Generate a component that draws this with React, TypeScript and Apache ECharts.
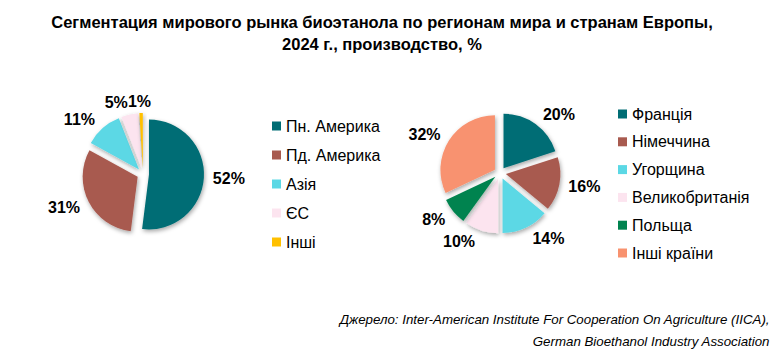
import React, { useEffect, useRef } from "react";
import * as echarts from "echarts";

const titleLines = [
  "Сегментация мирового рынка биоэтанола по регионам мира и странам Европы,",
  "2024 г., производство, %",
];
const sourceLines = [
  "Джерело: Inter-American Institute For Cooperation On Agriculture (IICA),",
  "German Bioethanol Industry Association",
];

const regionNames = ["Пн. Америка", "Пд. Америка", "Азія", "ЄС", "Інші"];
const regionValues = [52, 31, 11, 5, 1];
const regionColors = ["#006D74", "#A85A4F", "#5BD8E5", "#FCE4EF", "#FFC000"];

const europeNames = ["Франція", "Німеччина", "Угорщина", "Великобританія", "Польща", "Інші країни"];
const europeValues = [20, 16, 14, 10, 8, 32];
const europeColors = ["#006D74", "#A85A4F", "#5BD8E5", "#FCE4EF", "#00834F", "#F8926F"];

const FONT = "Liberation Sans, Arial, sans-serif";

function midAngles(values: number[]): number[] {
  const total = values.reduce((a, b) => a + b, 0);
  let cum = 0;
  return values.map((v) => {
    const mid = ((cum + v / 2) / total) * Math.PI * 2;
    cum += v;
    return mid;
  });
}

export default function App() {
  const ref = useRef<HTMLDivElement>(null);
  useEffect(() => {
    document.body.style.margin = "0";
    if (!ref.current) return;
    const chart = echarts.init(ref.current, null, { renderer: "svg" });
    const midsR = midAngles(regionValues);
    const midsE = midAngles(europeValues);
    const pieBase = {
      type: "pie",
      radius: 55,
      startAngle: 90,
      clockwise: true,
      selectedMode: "multiple",
      selectedOffset: 6,
      avoidLabelOverlap: false,
      emphasis: { disabled: true },
      label: {
        show: true,
        position: "outside",
        formatter: "{c}%",
        fontSize: 16,
        fontWeight: "bold",
        color: "#000",
        fontFamily: FONT,
        distanceToLabelLine: 5,
      },
      labelLine: { show: false, length: 4, length2: 0 },
      itemStyle: {
        shadowBlur: 4,
        shadowColor: "rgba(0,0,0,0.35)",
        shadowOffsetX: 1,
        shadowOffsetY: 2,
      },
    };
    chart.setOption({
      animation: false,
      backgroundColor: "#fff",
      textStyle: { fontFamily: FONT },
      title: {
        text: titleLines.join("\n"),
        left: 377,
        top: 6,
        textAlign: "center",
        textStyle: {
          fontSize: 16.5,
          fontWeight: "bold",
          color: "#000",
          lineHeight: 22,
          fontFamily: FONT,
        },
      },
      graphic: sourceLines.map((t, i) => ({
        type: "text",
        right: 12,
        top: 313 + i * 22,
        style: {
          text: t,
          fontSize: 13.3,
          fontStyle: "italic",
          fill: "#000",
          fontFamily: FONT,
        },
      })),
      legend: [
        {
          data: regionNames,
          orient: "vertical",
          left: 267,
          top: 113,
          itemWidth: 9,
          itemHeight: 9,
          itemGap: 13,
          icon: "rect",
          selectedMode: false,
          textStyle: { fontSize: 16, color: "#000" },
        },
        {
          data: europeNames,
          orient: "vertical",
          left: 613,
          top: 101,
          itemWidth: 9,
          itemHeight: 9,
          itemGap: 11.8,
          icon: "rect",
          selectedMode: false,
          textStyle: { fontSize: 16, color: "#000" },
        },
      ],
      series: [
        {
          ...pieBase,
          name: "regions",
          center: [143, 174],
          data: regionNames.map((n, i) => ({
            name: n,
            value: regionValues[i],
            selected: true,
            itemStyle: { color: regionColors[i] },
          })),
          labelLayout: (p: any) => {
            const dy = -Math.cos(midsR[p.dataIndex]) * 8;
            if (p.dataIndex === 3) return { dy, dx: 4 };
            if (p.dataIndex === 4) return { dy, dx: -8, align: "left" };
            return { dy };
          },
        },
        {
          ...pieBase,
          name: "europe",
          center: [500, 173],
          radius: 54.5,
          data: europeNames.map((n, i) => ({
            name: n,
            value: europeValues[i],
            selected: true,
            itemStyle: { color: europeColors[i] },
          })),
          labelLayout: (p: any) => ({ dy: -Math.cos(midsE[p.dataIndex]) * 8 }),
        },
      ],
    });
    return () => chart.dispose();
  }, []);
  return <div ref={ref} style={{ width: 782, height: 360 }} />;
}
